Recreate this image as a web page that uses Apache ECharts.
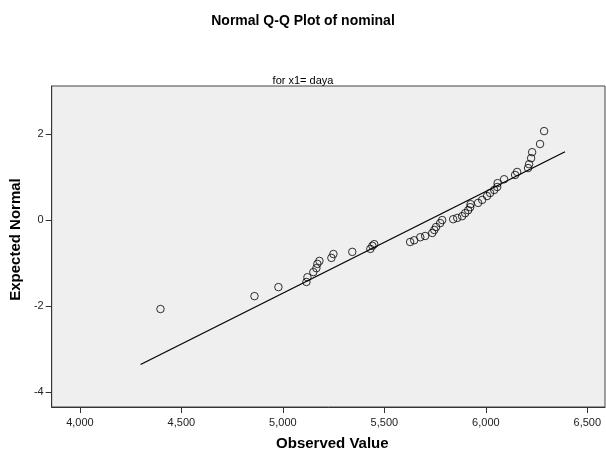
<!DOCTYPE html>
<html>
<head>
<meta charset="utf-8">
<script src="https://cdn.jsdelivr.net/npm/echarts@6/dist/echarts.min.js"></script>
<style>
    html, body { margin: 0; padding: 0; background: #fff; }
    #chart { width: 606px; height: 456px; }
</style>
</head>
<body>
<div id="chart"></div>
<script>
const observed = [
    4397, 4860, 4978, 5116, 5121, 5150, 5165, 5170, 5180, 5239,
    5249, 5342, 5431, 5441, 5450, 5627, 5647, 5677, 5701, 5736,
    5746, 5755, 5775, 5785, 5839, 5859, 5883, 5898, 5913, 5923,
    5925, 5962, 5982, 6006, 6021, 6041, 6056, 6058, 6090, 6144,
    6154, 6208, 6213, 6223, 6228, 6267, 6287
];
const expected = [
    -2.07, -1.77, -1.56, -1.44, -1.33, -1.21, -1.12, -1.02, -0.95, -0.88,
    -0.79, -0.74, -0.67, -0.60, -0.56, -0.51, -0.47, -0.40, -0.37, -0.30,
    -0.23, -0.16, -0.07, 0.00, 0.02, 0.05, 0.09, 0.16, 0.23, 0.30,
    0.37, 0.40, 0.47, 0.56, 0.63, 0.70, 0.77, 0.86, 0.95, 1.05,
    1.12, 1.21, 1.30, 1.44, 1.58, 1.77, 2.07
];
// reference line end points
const lineX = [4299, 6390];
const lineY = [-3.36, 1.59];

const xTicks = [4000, 4500, 5000, 5500, 6000, 6500];
const yTicks = [-4, -2, 0, 2];

const font = '"Liberation Sans", Arial, sans-serif';
const chart = echarts.init(document.getElementById('chart'));

chart.setOption({
    animation: false,
    backgroundColor: '#fff',
    title: [{
        text: 'Normal Q-Q Plot of nominal',
        left: 'center',
        top: 9,
        textStyle: { fontFamily: font, fontSize: 14, fontWeight: 'bold', color: '#000' }
    }, {
        text: 'for x1= daya',
        left: 'center',
        top: 70,
        textStyle: { fontFamily: font, fontSize: 11, fontWeight: 'normal', color: '#000' }
    }],
    grid: {
        left: 51,
        top: 86,
        right: 1,
        bottom: 49,
        show: true,
        backgroundColor: '#efefef',
        borderColor: '#444',
        borderWidth: 1
    },
    xAxis: {
        type: 'value',
        min: 3861,
        max: 6587,
        name: 'Observed Value',
        nameLocation: 'middle',
        nameGap: 29,
        nameTextStyle: { fontFamily: font, fontSize: 15, fontWeight: 'bold', color: '#000', padding: [0, 0, 0, 8] },
        axisLine: { onZero: false, lineStyle: { color: '#333', width: 1 } },
        axisTick: { customValues: xTicks, length: 6, lineStyle: { color: '#333' } },
        axisLabel: {
            customValues: xTicks,
            margin: 10,
            fontFamily: font,
            fontSize: 11,
            color: '#222',
            formatter: v => v.toLocaleString('en-US')
        },
        splitLine: { show: false }
    },
    yAxis: {
        type: 'value',
        min: -4.35,
        max: 3.12,
        name: 'Expected Normal',
        nameLocation: 'middle',
        nameGap: 21,
        nameTextStyle: { fontFamily: font, fontSize: 15, fontWeight: 'bold', color: '#000', padding: [0, 0, 0, 14] },
        axisLine: { onZero: false, lineStyle: { color: '#333', width: 1 } },
        axisTick: { customValues: yTicks, length: 6, lineStyle: { color: '#333' } },
        axisLabel: {
            customValues: yTicks,
            margin: 8,
            fontFamily: font,
            fontSize: 11,
            color: '#222',
            formatter: v => String(v)
        },
        splitLine: { show: false }
    },
    series: [{
        type: 'line',
        data: lineX.map((x, i) => [x, lineY[i]]),
        symbol: 'none',
        lineStyle: { color: '#000', width: 1.3 },
        silent: true
    }, {
        type: 'scatter',
        data: observed.map((x, i) => [x, expected[i]]),
        symbol: 'circle',
        symbolSize: 7.5,
        itemStyle: { color: 'rgba(0,0,0,0)', borderColor: '#000', borderWidth: 1 }
    }]
});
</script>
</body>
</html>
